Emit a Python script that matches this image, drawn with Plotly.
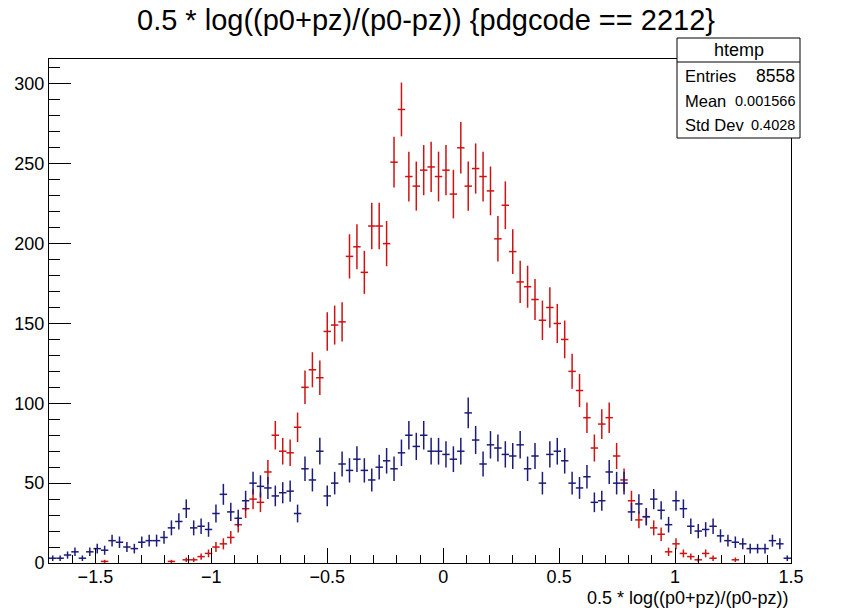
import plotly.graph_objects as go
import math

# Histogram definition (ROOT htemp: 100 bins from -1.7 to 1.5)
x_min = -1.7
x_max = 1.5
n_bins = 100

red_counts = [
    0, 0, 0, 0, 0, 0, 0, 1, 0, 0,
    0, 0, 0, 0, 0, 0, 1, 0, 2, 2,
    4, 6, 10, 12, 16, 24, 34, 40, 38, 57,
    80, 70, 69, 85, 110, 121, 116, 145, 149, 151,
    192, 198, 182, 211, 211, 200, 251, 284, 242, 236,
    246, 248, 242, 246, 231, 260, 236, 247, 242, 233,
    203, 224, 195, 176, 173, 165, 152, 160, 150, 140,
    120, 108, 91, 72, 87, 91, 67, 52, 39, 27,
    29, 22, 18, 7, 12, 6, 4, 2, 6, 3,
    0, 0, 2, 0, 0, 0, 0, 0, 0, 0,
]

blue_counts = [
    3, 3, 5, 7, 3, 7, 9, 8, 14, 13,
    10, 9, 13, 14, 14, 16, 22, 26, 34, 22,
    23, 21, 31, 43, 32, 28, 39, 50, 48, 47,
    42, 44, 45, 31, 59, 52, 70, 42, 50, 62,
    58, 65, 58, 52, 60, 64, 59, 69, 80, 73,
    80, 70, 70, 68, 65, 70, 94, 77, 62, 74,
    72, 68, 67, 74, 59, 67, 50, 68, 70, 64,
    50, 47, 54, 38, 39, 57, 50, 50, 32, 37,
    29, 40, 33, 24, 39, 34, 23, 20, 21, 23,
    17, 14, 13, 12, 9, 9, 9, 14, 12, 3,
]

x_tick_vals = [-1.5, -1, -0.5, 0, 0.5, 1, 1.5]
x_tick_text = ["\u22121.5", "\u22121", "\u22120.5", "0", "0.5", "1", "1.5"]
y_tick_vals = [0, 50, 100, 150, 200, 250, 300]
y_tick_text = ["0", "50", "100", "150", "200", "250", "300"]

title_text = "0.5 * log((p0+pz)/(p0-pz)) {pdgcode == 2212}"
x_title = "0.5 * log((p0+pz)/(p0-pz))"
stats_name = "htemp"
stats_labels = ["Entries", "Mean", "Std Dev"]
stats_values = ["8558", "0.001566", "0.4028"]

RED = "#cc1414"
BLUE = "#1c1c78"
FONT = "Liberation Sans, Arial, Helvetica, sans-serif"

bw = (x_max - x_min) / n_bins
centers = [x_min + (i + 0.5) * bw for i in range(n_bins)]


def hist_trace(counts, color):
    xs, ys, es = [], [], []
    for c, n in zip(centers, counts):
        if n > 0:
            xs.append(c)
            ys.append(n)
            es.append(math.sqrt(n))
    return go.Scatter(
        x=xs, y=ys, mode="markers",
        marker=dict(size=1, color=color),
        error_y=dict(type="data", array=es, visible=True, color=color, thickness=1.5, width=0),
        error_x=dict(type="constant", value=bw / 2, visible=True, color=color, thickness=1.5, width=0),
        showlegend=False, hoverinfo="x+y",
    )


fig = go.Figure()
fig.add_trace(hist_trace(red_counts, RED))
fig.add_trace(hist_trace(blue_counts, BLUE))

W, H = 857, 608
L, R, T, B = 49, 791, 59, 563


def px(x):
    return (x - L) / (R - L)


def py(y):
    return (B - y) / (B - T)


fig.update_layout(
    width=W, height=H,
    margin=dict(l=L, r=W - R, t=T, b=H - B, pad=0),
    paper_bgcolor="white", plot_bgcolor="white",
    font=dict(family=FONT, color="black", size=15),
    xaxis=dict(
        range=[x_min, x_max], showgrid=False, zeroline=False,
        showline=True, linecolor="black", linewidth=1, mirror=True,
        ticks="inside", ticklen=15, tickwidth=1, tickcolor="black",
        tickvals=x_tick_vals, ticktext=x_tick_text,
        tickfont=dict(size=18), ticklabelstandoff=-3,
        minor=dict(ticks="inside", ticklen=8, tickwidth=1, tickcolor="black", dtick=0.1, tick0=0, showgrid=False),
    ),
    yaxis=dict(
        range=[0, 315.6], showgrid=False, zeroline=False,
        showline=True, linecolor="black", linewidth=1, mirror=True,
        ticks="inside", ticklen=22, tickwidth=1, tickcolor="black",
        tickvals=y_tick_vals, ticktext=y_tick_text,
        tickfont=dict(size=18),
        minor=dict(ticks="inside", ticklen=11, tickwidth=1, tickcolor="black", dtick=10, tick0=0, showgrid=False),
    ),
)

# Title
fig.add_annotation(
    text=title_text, xref="paper", yref="paper",
    x=px(426), y=py(20), xanchor="center", yanchor="middle",
    showarrow=False, font=dict(size=29, family=FONT),
)
# X axis title (right aligned, ROOT style)
fig.add_annotation(
    text=x_title, xref="paper", yref="paper",
    x=px(791), y=py(597.5), xanchor="right", yanchor="middle",
    showarrow=False, font=dict(size=18, family=FONT),
)

# Stats box
bx0, bx1, by0, by1, bhead = 677, 800, 38, 138, 62
fig.add_shape(type="rect", xref="paper", yref="paper",
              x0=px(bx0), x1=px(bx1), y0=py(by1), y1=py(by0),
              line=dict(color="black", width=1), fillcolor="white", layer="above")
fig.add_shape(type="line", xref="paper", yref="paper",
              x0=px(bx0), x1=px(bx1), y0=py(bhead), y1=py(bhead),
              line=dict(color="black", width=1), layer="above")
fig.add_annotation(text=stats_name, xref="paper", yref="paper",
                   x=px((bx0 + bx1) / 2), y=py(50), xanchor="center", yanchor="middle",
                   showarrow=False, font=dict(size=18, family=FONT))
row_y = [76, 101, 125]
value_sizes = [17.5, 14.5, 14.5]
for lab, val, yy, vs in zip(stats_labels, stats_values, row_y, value_sizes):
    fig.add_annotation(text=lab, xref="paper", yref="paper",
                       x=px(683), y=py(yy), xanchor="left", yanchor="middle",
                       showarrow=False, font=dict(size=16.5, family=FONT))
    fig.add_annotation(text=val, xref="paper", yref="paper",
                       x=px(797), y=py(yy), xanchor="right", yanchor="middle",
                       showarrow=False, font=dict(size=vs, family=FONT))

fig.write_html("out.html", post_script="document.body.style.margin='0px';",
               config={"displayModeBar": False})
